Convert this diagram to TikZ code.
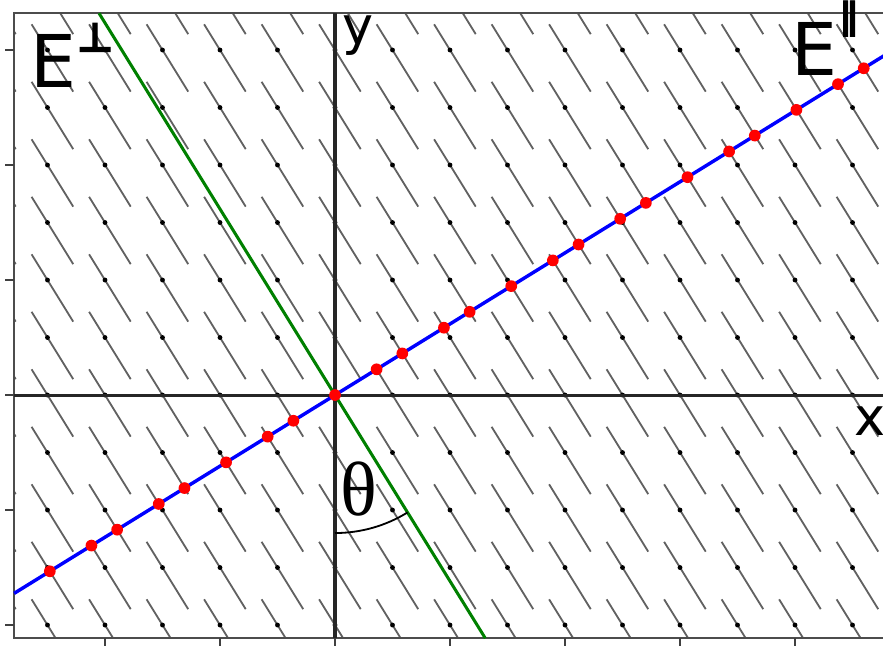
\documentclass[tikz,border=0pt]{standalone}
\usepackage{fontspec}
\setsansfont{DejaVu Sans}
\newfontfamily\thetafont{Liberation Serif}
\newfontfamily\heavysym{DejaVu Sans Bold}[FakeBold=2.5]
\usetikzlibrary{calc}

\begin{document}
\begin{tikzpicture}[
  x=1cm, y=1cm,
  every node/.style={inner sep=1pt},
  window/.style={draw=black!62, line width=0.9pt},
  site/.style={circle, fill=black, minimum size=2.4pt, inner sep=0pt},
  cutpt/.style={circle, fill=red, minimum size=5.8pt, inner sep=0pt},
  % the two lines through the origin: E parallel (slope 1/phi) and E perp
  epar/.style={draw=blue, line width=1.7pt},
  eperp/.style={draw=green!50!black, line width=1.5pt},
  axis/.style={draw=black!85, line width=1.5pt},
  frame/.style={draw=black!70, line width=1.1pt},
  tick/.style={draw=black!75, line width=0.8pt},
  bigE/.style={font=\sffamily\fontsize{36}{36}\selectfont, inner sep=0pt},
  axlabel/.style={font=\sffamily\fontsize{26}{26}\selectfont, inner sep=0pt}]

  \useasboundingbox (-5.826,-4.452) rectangle (9.530,6.870);

  % frame corners and line ends
  \coordinate (fl) at (-5.58,-4.23);
  \coordinate (fr) at ( 9.80, 6.64);
  \coordinate (o)  at (0,0);
  \coordinate (par-l)  at (-5.58,-3.449);
  \coordinate (par-r)  at ( 9.80, 6.057);
  \coordinate (perp-t) at (-4.104, 6.64);
  \coordinate (perp-b) at ( 2.614,-4.23);

  % lattice with its windows
  \begin{scope}
    \clip (fl) rectangle (fr);
    \foreach \m in {-6,...,10}
      \foreach \n in {-5,...,7} {
        \draw[window] ({\m-0.2764},{\n+0.4472}) -- ({\m+0.4472},{\n-0.7236});
        \node[site] (s\m\n) at (\m,\n) {};
      }
  \end{scope}

  % frame and ticks
  \draw[frame] (fr |- fl) -- (fl) -- (fl |- fr) -- (fr);
  \foreach \t in {-4,-2,...,8}
    \draw[tick] (\t,-4.23) -- (\t,-4.36);
  \foreach \t in {-4,-2,...,6}
    \draw[tick] (-5.58,\t) -- (-5.74,\t);

  % axes
  \draw[axis] (-5.58,0) -- (9.80,0);
  \draw[axis] (0,-4.23) -- (0,6.64);

  % E perp and E parallel
  \draw[eperp] (perp-t) -- (perp-b);
  \draw[epar]  (par-l) -- (par-r);

  % points cut out by the strip, projected on E parallel
  \foreach \m/\n in {-5/-3,-4/-3,-4/-2,-3/-2,-3/-1,-2/-1,-1/-1,-1/0,0/0,
                     1/0,1/1,2/1,2/2,3/2,4/2,4/3,5/3,5/4,6/4,7/4,7/5,8/5,9/5,9/6}
    \node[cutpt] (p\m\n) at ($(o)!(\m,\n)!(1.618,1)$) {};

  % angle
  \draw[line width=0.9pt] (0,-2.4) arc[start angle=-90, end angle=-58.28, radius=2.4];
  \node (theta) at (0.41,-1.64) {\thetafont\fontsize{38}{38}\selectfont θ};

  % labels
  \node[axlabel, anchor=base west] (ylab) at (0.12,6.10) {y};
  \node[axlabel, anchor=base west] (xlab) at (9.02,-0.70) {x};
  \node[bigE, anchor=base west] (Eperp) at (-5.30,5.34)
    {E\raisebox{18pt}{\heavysym\fontsize{20}{20}\selectfont ⊥}};
  \node[bigE, anchor=base west] (Epar) at (7.93,5.56)
    {E\hspace{1pt}\raisebox{23pt}{\heavysym\fontsize{18}{18}\selectfont ∥}};
\end{tikzpicture}
\end{document}
